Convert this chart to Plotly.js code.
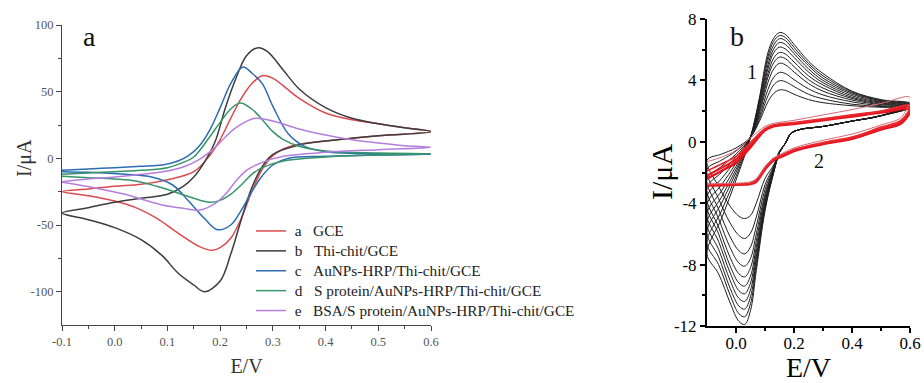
<!DOCTYPE html>
<html><head><meta charset="utf-8">
<script src="https://cdn.plot.ly/plotly-3.0.1.min.js"></script>
<style>html,body{margin:0;padding:0;background:#fff}#chart{width:924px;height:383px}
#chart .legendtext{font-size:15.3px !important}
#chart .legend, #chart .legend .scrollbox, #chart .legend g{clip-path:none !important}</style>
</head><body><div id="chart"></div>
<script>
// ---------- Panel a : CVs of the electrode build-up ----------
const legendNames = ['\u00a0a\u00a0\u00a0\u00a0GCE', '\u00a0b\u00a0\u00a0\u00a0Thi-chit/GCE', '\u00a0c\u00a0\u00a0\u00a0AuNPs-HRP/Thi-chit/GCE',
  '\u00a0d\u00a0\u00a0\u00a0S protein/AuNPs-HRP/Thi-chit/GCE', '\u00a0e\u00a0\u00a0\u00a0BSA/S protein/AuNPs-HRP/Thi-chit/GCE'];

const gceX = [-0.1,-0.05,0,0.05,0.1,0.15,0.18,0.2,0.22,0.24,0.26,0.28,0.3,0.35,0.4,0.45,0.5,0.55,0.6,
  0.5,0.4,0.35,0.32,0.3,0.28,0.26,0.24,0.22,0.2,0.185,0.16,0.12,0.08,0.04,0,-0.05,-0.1];
const gceY = [-25,-23,-21,-19.5,-16,-10,2,14,30,45,56,62,60,45,34,29,26,23,20,
  17,13,10.5,7,2,-8,-25,-45,-60,-67,-69,-66,-56,-45,-37,-32,-28,-25];

const thiX = [-0.1,-0.05,0,0.05,0.1,0.13,0.15,0.17,0.19,0.21,0.23,0.25,0.272,0.29,0.32,0.35,0.4,0.45,0.5,0.55,0.6,
  0.5,0.4,0.35,0.3,0.28,0.26,0.24,0.22,0.2,0.17,0.15,0.12,0.09,0.05,0,-0.05,-0.1];
const thiY = [-41,-37,-33,-30,-27,-21,-14,-3,12,38,60,77,83,80,66,52,38,30,26,23,20,
  17,13,10,3,-6,-22,-46,-72,-92,-100,-95,-86,-73,-61,-52,-46,-41];

const hrpX = [-0.1,-0.05,0,0.05,0.09,0.12,0.14,0.16,0.18,0.2,0.22,0.243,0.26,0.28,0.3,0.33,0.36,0.4,0.5,0.6,
  0.5,0.4,0.33,0.3,0.28,0.26,0.24,0.22,0.195,0.17,0.14,0.11,0.07,0.02,-0.05,-0.1];
const hrpY = [-9,-8,-7,-6,-5,-2,2,9,21,38,56,68.5,64,56,39,18,9,5,3.5,3,
  2.5,1.5,0,-5,-13,-25,-39,-50,-53.5,-45,-32,-20,-14,-12,-10.5,-10];

const spX = [-0.1,-0.05,0,0.05,0.1,0.13,0.15,0.18,0.2,0.22,0.238,0.26,0.28,0.3,0.32,0.35,0.4,0.5,0.6,
  0.5,0.4,0.32,0.28,0.26,0.24,0.22,0.2,0.18,0.15,0.12,0.08,0.04,0,-0.05,-0.1];
const spY = [-12,-11,-10,-9,-7,-3,1,16,27,37,41.5,37,29,20,14,9,5.5,4,3.5,
  2.5,1,-2,-7,-12,-20,-27,-31.5,-33,-30,-26,-21,-17,-15.5,-14.5,-13.5];

const bsaX = [-0.1,-0.05,0,0.05,0.1,0.13,0.16,0.19,0.21,0.23,0.266,0.3,0.35,0.4,0.45,0.5,0.55,0.6,
  0.5,0.4,0.32,0.28,0.25,0.23,0.21,0.19,0.16,0.13,0.09,0.05,0.02,-0.04,-0.1];
const bsaY = [-17.5,-15.5,-14,-12,-9.5,-6.5,-1,8,16,23,30,28,22,17.5,14,11.5,9.5,8.3,
  6.5,4.5,1.5,-3,-9,-17,-27,-34,-39,-37.5,-35,-30.5,-27,-22,-18];

const aXTickVals = [-0.1,0,0.1,0.2,0.3,0.4,0.5,0.6];
const aXTickText = ['-0.1','0.0','0.1','0.2','0.3','0.4','0.5','0.6'];
const aXMinor = [-0.05,0.05,0.15,0.25,0.35,0.45,0.55];
const aYTickVals = [100,50,0,-50,-100];
const aYTickText = ['100','50','0','-50','-100'];
const aYMinor = [75,25,-25,-75];

// ---------- Panel b : repeated CVs (1 black, 2 red) ----------
const bLoopX = [-0.1,-0.05,0,0.05,0.08,0.11,0.13,0.15,0.17,0.2,0.25,0.3,0.4,0.5,0.6,
  0.5,0.4,0.3,0.22,0.19,0.17,0.15,0.13,0.1,0.07,0.05,0.03,0.01,-0.02,-0.06,-0.1];
const cv01 = [-1.2,-0.8,-0.4,0.3,1.3,2.6,3.15,3.38,3.35,3.1,2.75,2.55,2.35,2.25,2.2,
  1.7,1.35,1.0,0.8,0.55,-0.1,-0.6,-1.5,-2.4,-4.0,-4.8,-5.0,-4.85,-4.2,-2.9,-1.2];
const cv02 = [-1.8,-1.2,-0.6,0.3,1.45,3.0,3.7,3.98,3.92,3.6,3.1,2.8,2.45,2.3,2.22,
  1.7,1.35,1.0,0.8,0.55,-0.1,-0.65,-1.6,-2.8,-4.9,-5.95,-6.3,-6.1,-5.3,-3.7,-1.8];
const cv03 = [-2.4,-1.6,-0.8,0.3,1.6,3.4,4.2,4.52,4.45,4.05,3.45,3.05,2.6,2.35,2.25,
  1.7,1.35,1.0,0.8,0.55,-0.1,-0.65,-1.65,-3.1,-5.5,-6.85,-7.3,-7.1,-6.2,-4.4,-2.4];
const cv04 = [-3.0,-2.0,-1.0,0.3,1.8,3.85,4.75,5.12,5.02,4.55,3.8,3.3,2.72,2.42,2.28,
  1.7,1.35,1.0,0.8,0.55,-0.1,-0.7,-1.7,-3.4,-6.0,-7.6,-8.1,-7.9,-6.9,-5.0,-3.0];
const cv05 = [-3.6,-2.4,-1.2,0.3,1.95,4.2,5.15,5.52,5.42,4.9,4.05,3.5,2.82,2.47,2.3,
  1.7,1.35,1.0,0.8,0.55,-0.1,-0.7,-1.75,-3.6,-6.45,-8.2,-8.8,-8.6,-7.55,-5.55,-3.6];
const cv06 = [-4.1,-2.8,-1.4,0.3,2.1,4.45,5.45,5.82,5.72,5.2,4.3,3.7,2.9,2.52,2.33,
  1.7,1.35,1.0,0.8,0.55,-0.1,-0.7,-1.8,-3.8,-6.85,-8.75,-9.4,-9.2,-8.1,-6.0,-4.1];
const cv07 = [-4.7,-3.2,-1.6,0.3,2.25,4.75,5.8,6.17,6.05,5.5,4.55,3.85,3.0,2.57,2.36,
  1.7,1.35,1.0,0.8,0.55,-0.1,-0.7,-1.85,-3.95,-7.2,-9.2,-9.9,-9.7,-8.55,-6.5,-4.7];
const cv08 = [-5.3,-3.6,-1.8,0.3,2.4,5.0,6.05,6.47,6.35,5.75,4.75,4.0,3.1,2.62,2.4,
  1.7,1.35,1.0,0.8,0.55,-0.1,-0.7,-1.9,-4.1,-7.5,-9.65,-10.4,-10.2,-9.05,-7.0,-5.3];
const cv09 = [-5.9,-4.0,-2.0,0.3,2.55,5.3,6.3,6.72,6.6,5.95,4.95,4.15,3.18,2.67,2.43,
  1.7,1.35,1.0,0.8,0.55,-0.1,-0.7,-1.95,-4.25,-7.8,-10.1,-10.9,-10.7,-9.55,-7.5,-5.9];
const cv10 = [-6.6,-4.5,-2.25,0.3,2.7,5.55,6.55,6.92,6.8,6.15,5.1,4.3,3.25,2.71,2.46,
  1.7,1.35,1.0,0.8,0.55,-0.1,-0.7,-2.0,-4.4,-8.1,-10.55,-11.4,-11.2,-10.0,-8.0,-6.6];
const cv11 = [-7.3,-5.0,-2.5,0.3,2.8,5.8,6.75,7.12,7.0,6.35,5.25,4.45,3.3,2.75,2.5,
  1.7,1.35,1.0,0.8,0.55,-0.1,-0.7,-2.0,-4.5,-8.4,-11.0,-11.9,-11.7,-10.5,-8.6,-7.3];

const rLoopX = [-0.1,-0.05,0,0.05,0.1,0.13,0.2,0.3,0.4,0.5,0.6,
  0.57,0.5,0.4,0.3,0.2,0.16,0.13,0.1,0.07,0.05,0,-0.05,-0.1];
const red1 = [-1.3,-1.0,-0.55,0.25,1.0,1.2,1.4,1.75,2.1,2.5,2.9,
  1.6,1.1,0.5,0.1,-0.4,-0.75,-1.05,-1.6,-2.4,-2.6,-2.7,-2.72,-2.75];
const red2 = [-1.9,-1.45,-0.95,-0.05,0.85,1.1,1.25,1.5,1.75,2.0,2.35,
  1.4,0.95,0.3,-0.05,-0.5,-0.85,-1.1,-1.7,-2.5,-2.7,-2.75,-2.78,-2.8];
const red3 = [-2.2,-1.7,-1.15,-0.2,0.8,1.05,1.2,1.45,1.7,1.95,2.2,
  1.3,0.85,0.25,-0.1,-0.55,-0.9,-1.15,-1.75,-2.55,-2.72,-2.78,-2.8,-2.82];
const red4 = [-2.4,-1.9,-1.35,-0.35,0.75,1.0,1.15,1.4,1.65,1.9,2.1,
  1.2,0.8,0.2,-0.15,-0.6,-0.95,-1.2,-1.8,-2.6,-2.75,-2.8,-2.83,-2.85];

const bXTickVals = [0,0.2,0.4,0.6];
const bXTickText = ['0.0','0.2','0.4','0.6'];
const bXMinor = [0.1,0.3,0.5];
const bYTickVals = [8,4,0,-4,-8,-12];
const bYTickText = ['8','4','0','-4','-8','-12'];
const bYMinor = [6,2,-2,-6,-10];

// ---------- build ----------
const SERIF = 'Liberation Serif, Times New Roman, serif';
const aColors = ['#dc4a4e', '#3d3d3d', '#2b6db0', '#36956a', '#b47fdc'];
const aData = [[gceX,gceY],[thiX,thiY],[hrpX,hrpY],[spX,spY],[bsaX,bsaY]];
const traces = [];
aData.forEach((d,i) => traces.push({
  x: d[0], y: d[1], xaxis: 'x', yaxis: 'y', type: 'scatter', mode: 'lines',
  name: legendNames[i], line: {color: aColors[i], width: 1.5, shape: 'spline', smoothing: 1},
  showlegend: true, hoverinfo: 'skip'
}));
[cv01,cv02,cv03,cv04,cv05,cv06,cv07,cv08,cv09,cv10,cv11].forEach(y => traces.push({
  x: bLoopX, y: y, xaxis: 'x2', yaxis: 'y2', type: 'scatter', mode: 'lines',
  line: {color: '#1e1e1e', width: 1, shape: 'spline', smoothing: 1}, showlegend: false, hoverinfo: 'skip'
}));
[[red4,'#e8101a',2.4],[red3,'#ea1a22',2.2],[red2,'#e62a30',1.8],[red1,'#d76874',1.0]].forEach(r => traces.push({
  x: rLoopX, y: r[0], xaxis: 'x2', yaxis: 'y2', type: 'scatter', mode: 'lines',
  line: {color: r[1], width: r[2], shape: 'spline', smoothing: 1}, showlegend: false, hoverinfo: 'skip'
}));

const W = 924, H = 383;
const axA = {
  showline: true, linecolor: '#444', linewidth: 1, ticks: 'outside', ticklen: 5, tickwidth: 1, tickcolor: '#444',
  showgrid: false, zeroline: false, automargin: false,
  tickfont: {family: SERIF, size: 12.5, color: '#555'}
};
const axB = {
  showline: true, linecolor: '#000', linewidth: 2, ticks: 'outside', ticklen: 5, tickwidth: 2, tickcolor: '#000',
  showgrid: false, zeroline: false, automargin: false,
  tickfont: {family: SERIF, size: 17, color: '#000'}
};
const layout = {
  width: W, height: H, margin: {l: 0, r: 0, t: 0, b: 0},
  paper_bgcolor: '#fff', plot_bgcolor: '#fff',
  font: {family: SERIF},
  xaxis: Object.assign({}, axA, {
    domain: [62/W, 431/W], range: [-0.1, 0.6], anchor: 'y',
    tickmode: 'array', tickvals: aXTickVals, ticktext: aXTickText,
    minor: {tickmode: 'array', tickvals: aXMinor, ticks: 'outside', ticklen: 3, tickcolor: '#444'},
    title: {text: 'E/V', font: {family: SERIF, size: 20, color: '#333'}, standoff: 10}
  }),
  yaxis: Object.assign({}, axA, {
    domain: [1 - 325/H, 1 - 25/H], range: [-125, 100], anchor: 'x',
    tickmode: 'array', tickvals: aYTickVals, ticktext: aYTickText,
    minor: {tickmode: 'array', tickvals: aYMinor, ticks: 'outside', ticklen: 3, tickcolor: '#444'}
  }),
  xaxis2: Object.assign({}, axB, {
    domain: [707/W, 910/W], range: [-0.1, 0.6], anchor: 'y2',
    tickmode: 'array', tickvals: bXTickVals, ticktext: bXTickText, ticklabelstandoff: -4,
    minor: {tickmode: 'array', tickvals: bXMinor, ticks: 'outside', ticklen: 3, tickwidth: 2, tickcolor: '#000'},
    title: {text: 'E/V', font: {family: SERIF, size: 28, color: '#000'}, standoff: 12}
  }),
  yaxis2: Object.assign({}, axB, {
    domain: [1 - 326/H, 1 - 19/H], range: [-12, 8], anchor: 'x2',
    tickmode: 'array', tickvals: bYTickVals, ticktext: bYTickText,
    minor: {tickmode: 'array', tickvals: bYMinor, ticks: 'outside', ticklen: 3, tickwidth: 2, tickcolor: '#000'}
  }),
  legend: {
    x: 251/W, y: 1 - 216/H, xanchor: 'left', yanchor: 'top',
    bgcolor: 'rgba(0,0,0,0)', borderwidth: 0, tracegroupgap: 0,
    font: {family: SERIF, size: 13, color: '#222'}
  },
  showlegend: true,
  annotations: [
    {xref: 'paper', yref: 'paper', x: 24/W, y: 1 - 158/H, text: 'I/μA', textangle: -90, showarrow: false,
     font: {family: SERIF, size: 20, color: '#333'}, xanchor: 'center', yanchor: 'middle'},
    {xref: 'paper', yref: 'paper', x: 661/W, y: 1 - 172/H, text: 'I/μA', textangle: -90, showarrow: false,
     font: {family: SERIF, size: 30, color: '#000'}, xanchor: 'center', yanchor: 'middle'},
    {xref: 'paper', yref: 'paper', x: 89/W, y: 1 - 36/H, text: 'a', showarrow: false,
     font: {family: SERIF, size: 28, color: '#111'}, xanchor: 'center', yanchor: 'middle'},
    {xref: 'paper', yref: 'paper', x: 737/W, y: 1 - 36/H, text: 'b', showarrow: false,
     font: {family: SERIF, size: 28, color: '#111'}, xanchor: 'center', yanchor: 'middle'},
    {xref: 'paper', yref: 'paper', x: 752/W, y: 1 - 72/H, text: '1', showarrow: false,
     font: {family: SERIF, size: 20, color: '#111'}, xanchor: 'center', yanchor: 'middle'},
    {xref: 'paper', yref: 'paper', x: 819/W, y: 1 - 161/H, text: '2', showarrow: false,
     font: {family: SERIF, size: 20, color: '#111'}, xanchor: 'center', yanchor: 'middle'}
  ]
};
Plotly.newPlot('chart', traces, layout, {staticPlot: true, displayModeBar: false});
</script></body></html>
